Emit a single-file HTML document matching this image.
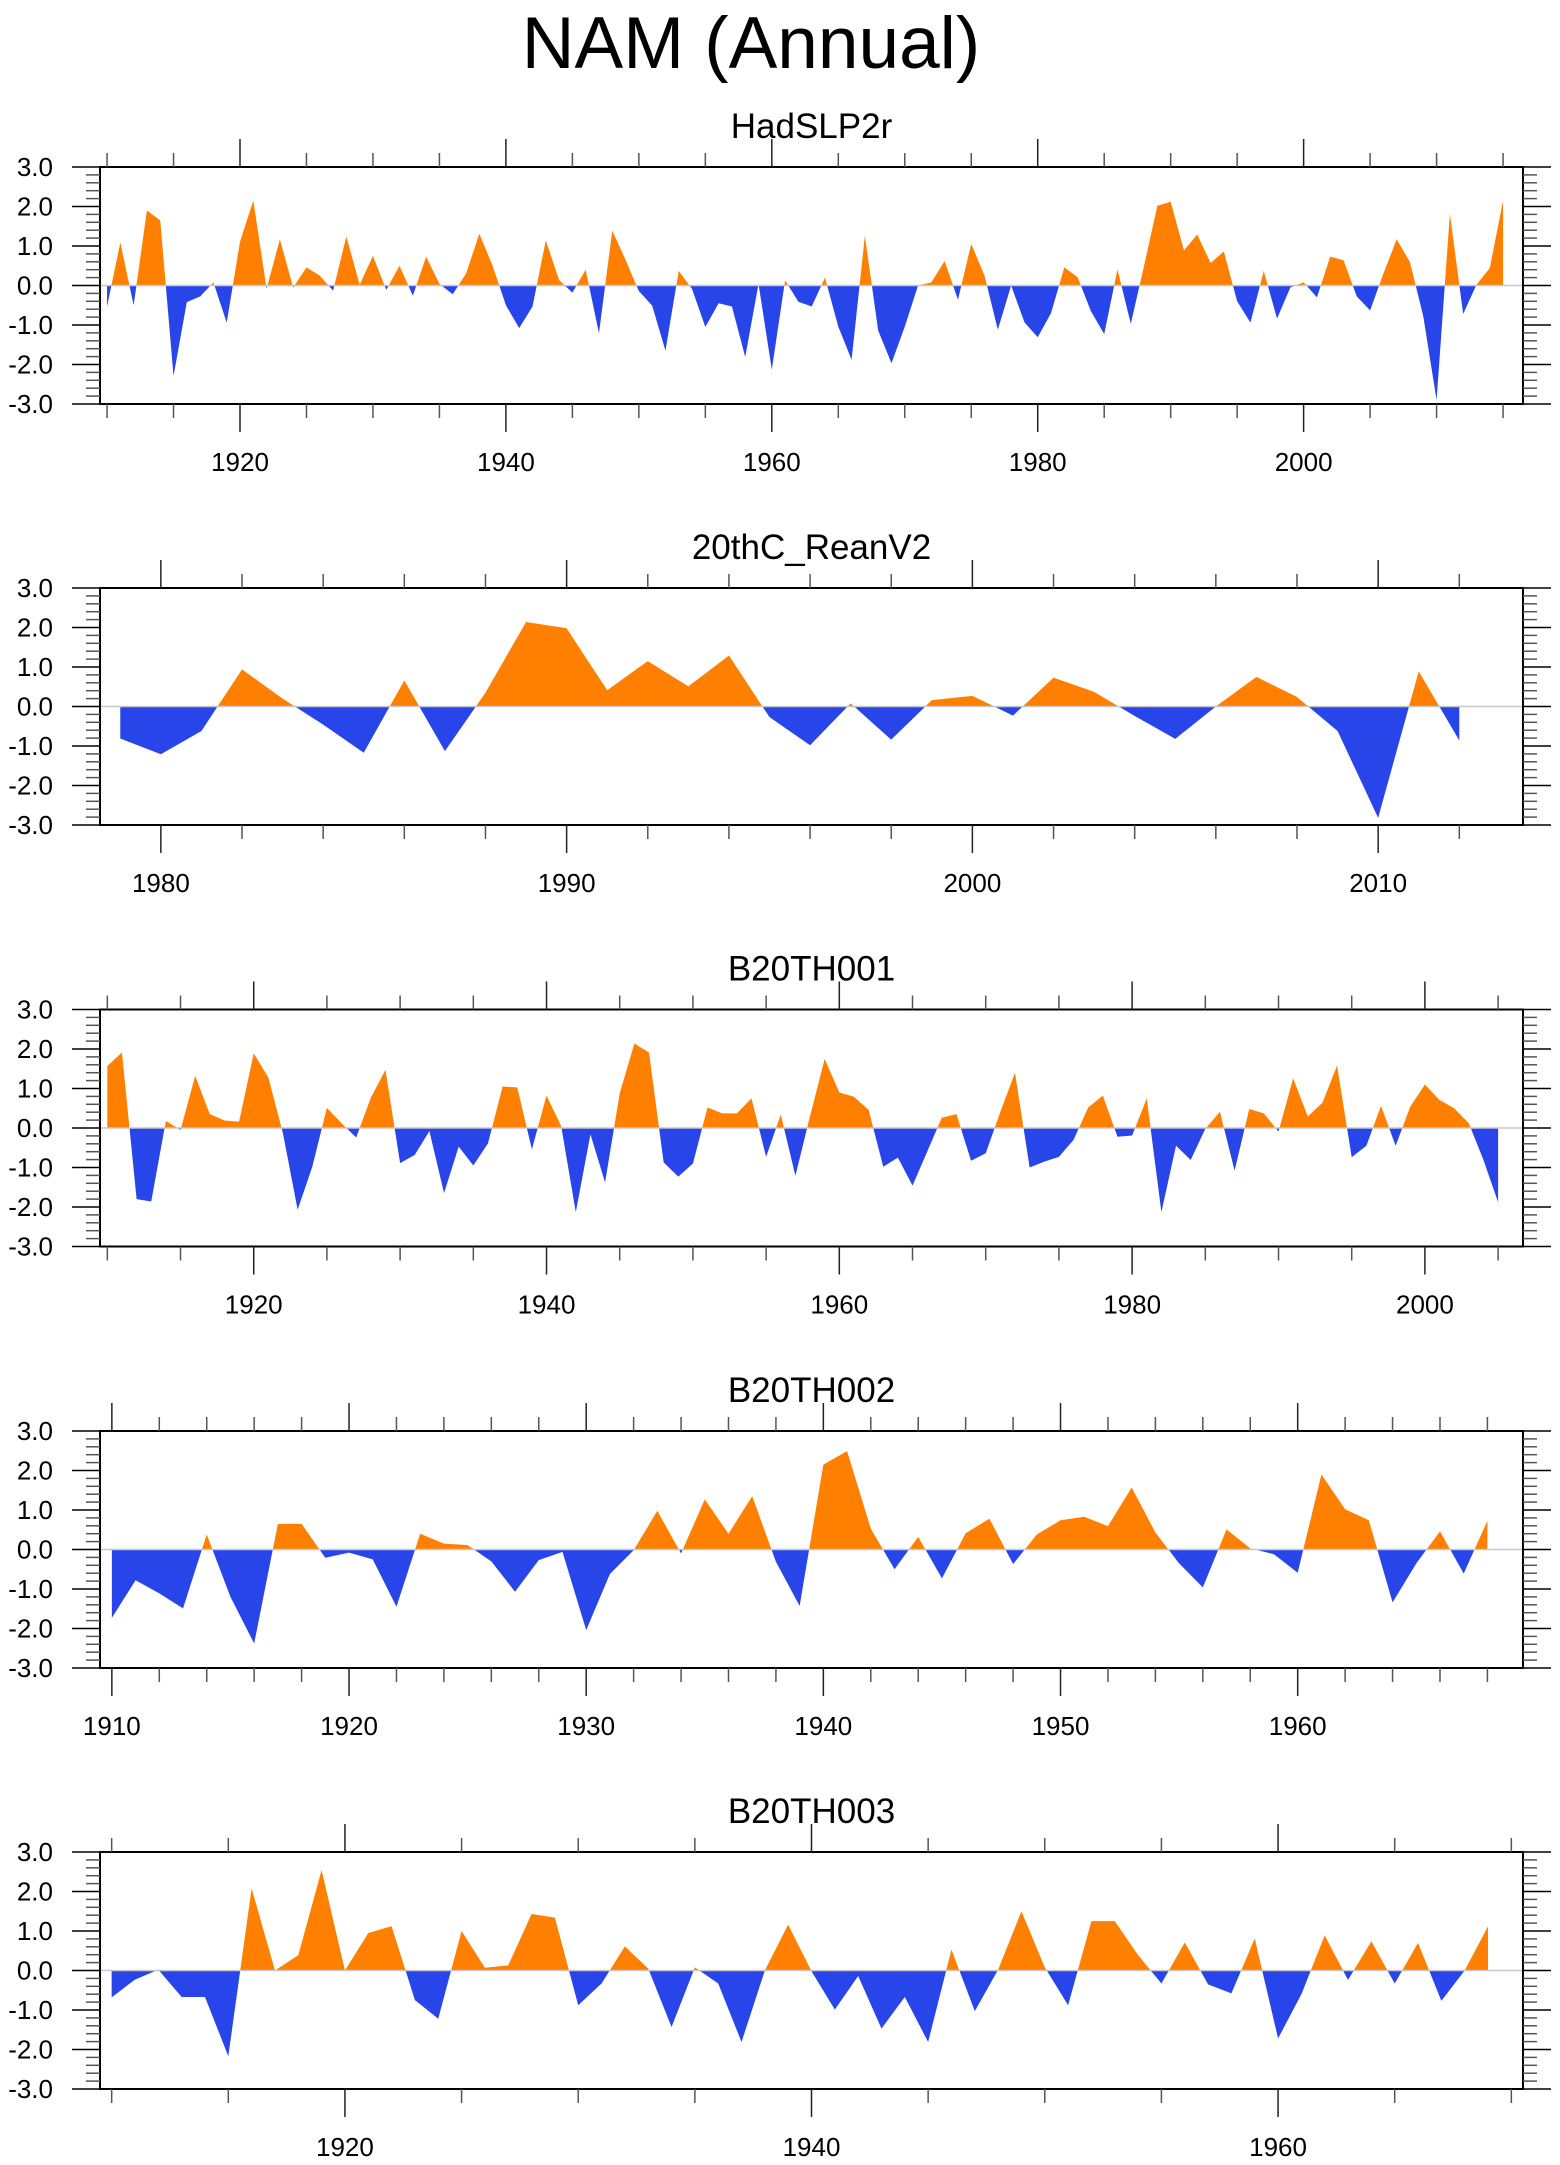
<!DOCTYPE html>
<html><head><meta charset="utf-8"><style>
html,body{margin:0;padding:0;background:#fff;}
svg{display:block;font-family:"Liberation Sans",sans-serif;}
</style></head><body>
<svg id="fig" width="1560" height="2165" viewBox="0 0 1560 2165" xmlns="http://www.w3.org/2000/svg">
<text x="751" y="68" font-size="73" text-anchor="middle">NAM (Annual)</text>
</svg>
<script>
const yTickLabels = ["3.0","2.0","1.0","0.0","-1.0","-2.0","-3.0"];
const yTickValues = [3,2,1,0,-1,-2,-3];

const hadTitle = "HadSLP2r";
const hadStart = 1910;
const hadValues = [-0.53,1.09,-0.5,1.9,1.65,-2.29,-0.42,-0.28,0.08,-0.94,1.11,2.15,-0.08,1.17,-0.05,0.46,0.25,-0.13,1.24,0.02,0.75,-0.11,0.5,-0.26,0.73,0.04,-0.22,0.3,1.31,0.5,-0.5,-1.08,-0.53,1.14,0.14,-0.18,0.4,-1.21,1.39,0.65,-0.14,-0.51,-1.65,0.37,-0.09,-1.05,-0.45,-0.53,-1.81,0.04,-2.13,0.13,-0.41,-0.53,0.2,-1.04,-1.88,1.26,-1.14,-1.97,-1.04,0.0,0.08,0.62,-0.36,1.05,0.25,-1.12,0.0,-0.93,-1.31,-0.7,0.46,0.21,-0.65,-1.23,0.41,-0.97,0.5,2.02,2.12,0.89,1.29,0.57,0.86,-0.4,-0.94,0.37,-0.84,-0.05,0.08,-0.3,0.73,0.64,-0.28,-0.63,0.3,1.17,0.59,-0.78,-2.9,1.81,-0.72,0.02,0.44,2.15];
const hadXTicks = [1920,1940,1960,1980,2000];

const reanTitle = "20thC_ReanV2";
const reanStart = 1979;
const reanValues = [-0.81,-1.21,-0.62,0.94,0.2,-0.46,-1.17,0.66,-1.13,0.35,2.14,1.98,0.41,1.15,0.51,1.29,-0.27,-0.98,0.08,-0.84,0.16,0.27,-0.23,0.73,0.37,-0.24,-0.82,0.0,0.75,0.24,-0.62,-2.82,0.89,-0.86];
const reanXTicks = [1980,1990,2000,2010];

const b1Title = "B20TH001";
const b1Start = 1910;
const b1Values = [1.57,1.91,-1.8,-1.86,0.18,-0.05,1.32,0.35,0.19,0.16,1.89,1.28,-0.14,-2.07,-0.98,0.51,0.12,-0.24,0.77,1.47,-0.89,-0.68,-0.08,-1.65,-0.47,-0.95,-0.39,1.05,1.03,-0.54,0.82,0.05,-2.13,-0.16,-1.38,0.88,2.14,1.91,-0.87,-1.23,-0.9,0.52,0.37,0.37,0.75,-0.73,0.34,-1.21,0.3,1.75,0.9,0.79,0.46,-0.98,-0.75,-1.46,-0.6,0.26,0.35,-0.83,-0.64,0.41,1.4,-1.0,-0.85,-0.73,-0.3,0.52,0.82,-0.22,-0.19,0.75,-2.13,-0.45,-0.81,-0.02,0.41,-1.08,0.48,0.37,-0.09,1.26,0.29,0.64,1.58,-0.74,-0.45,0.56,-0.45,0.54,1.1,0.71,0.5,0.12,-0.81,-1.88];
const b1XTicks = [1920,1940,1960,1980,2000];

const b2Title = "B20TH002";
const b2Start = 1910;
const b2Values = [-1.73,-0.78,-1.11,-1.49,0.38,-1.2,-2.38,0.65,0.65,-0.21,-0.08,-0.25,-1.45,0.4,0.15,0.11,-0.3,-1.07,-0.27,-0.06,-2.04,-0.62,-0.02,0.98,-0.1,1.27,0.4,1.35,-0.31,-1.43,2.15,2.49,0.53,-0.5,0.32,-0.73,0.41,0.78,-0.37,0.38,0.74,0.83,0.59,1.57,0.43,-0.35,-0.96,0.51,0.03,-0.12,-0.59,1.9,1.02,0.74,-1.34,-0.35,0.46,-0.61,0.73];
const b2XTicks = [1910,1920,1930,1940,1950,1960];

const b3Title = "B20TH003";
const b3Start = 1910;
const b3Values = [-0.68,-0.23,0.02,-0.67,-0.67,-2.17,2.08,0.0,0.39,2.54,0.0,0.95,1.12,-0.75,-1.22,1.0,0.07,0.13,1.43,1.34,-0.88,-0.33,0.61,0.05,-1.43,0.08,-0.33,-1.81,0.0,1.16,-0.02,-0.99,-0.14,-1.47,-0.67,-1.81,0.53,-1.03,0.02,1.5,0.08,-0.88,1.25,1.25,0.39,-0.33,0.71,-0.35,-0.58,0.81,-1.72,-0.6,0.89,-0.24,0.74,-0.33,0.7,-0.77,0.0,1.12];
const b3XTicks = [1920,1940,1960];

const NS = "http://www.w3.org/2000/svg";
const svg = document.getElementById("fig");
function mk(tag, attrs, parent){
  const e = document.createElementNS(NS, tag);
  for (const k in attrs) e.setAttribute(k, attrs[k]);
  (parent||svg).appendChild(e);
  return e;
}

const L = 100, R = 1523, H = 237;
function panel(idx, top, title, start, values, xmin, xmax, majorTicks, minorStep, minorStart){
  const g = mk("g", {});
  
  
  const bottom = top + H;
  const xs = v => L + (v - xmin) / (xmax - xmin) * (R - L);
  const ys = v => top + (3 - v) / 6 * H;
  const y0 = ys(0);
  // clip paths
  const defs = mk("defs", {}, g);
  const cpA = mk("clipPath", {id: "ca" + idx}, defs);
  mk("rect", {x: L, y: top, width: R - L, height: y0 - top}, cpA);
  const cpB = mk("clipPath", {id: "cb" + idx}, defs);
  mk("rect", {x: L, y: y0, width: R - L, height: bottom - y0}, cpB);
  let d = "M" + xs(start) + "," + y0;
  values.forEach((v, i) => { d += " L" + xs(start + i).toFixed(2) + "," + ys(v).toFixed(2); });
  d += " L" + xs(start + values.length - 1) + "," + y0 + " Z";
  const pos = mk("path", {d: d, fill: "#FF8000", "clip-path": "url(#ca" + idx + ")"}, g);
  
  
  const neg = mk("path", {d: d, fill: "#2845EA", "clip-path": "url(#cb" + idx + ")"}, g);
  
  
  const zl = mk("line", {x1: L, x2: R, y1: y0, y2: y0, stroke: "#c8c8c8", "stroke-width": 1.5}, g);
  
  
  // frame
  const fr = mk("rect", {x: L, y: top, width: R - L, height: H, fill: "none", stroke: "#000", "stroke-width": 2}, g);
  
  
  // y ticks
  for (let k = 0; k <= 30; k++) {
    const v = -3 + k * 0.2;
    const y = ys(v);
    const major = k % 5 === 0;
    const len = major ? 28 : 14;
    const col = major ? "#000" : "#555";
    mk("line", {x1: L - len, x2: L, y1: y, y2: y, stroke: col, "stroke-width": 1.5}, g);
    mk("line", {x1: R, x2: R + len, y1: y, y2: y, stroke: col, "stroke-width": 1.5}, g);
  }
  yTickValues.forEach((v, i) => {
    const t = mk("text", {x: 53, y: ys(v) + 9, "font-size": 26, "text-anchor": "end"}, g);
    
    
    t.textContent = yTickLabels[i];
  });
  // x ticks
  for (let yr = minorStart; yr <= xmax; yr += minorStep) {
    const x = xs(yr);
    const major = majorTicks.indexOf(yr) >= 0;
    const len = major ? 28 : 14;
    const col = major ? "#222" : "#555";
    mk("line", {x1: x, x2: x, y1: top - len, y2: top, stroke: col, "stroke-width": 1.5}, g);
    mk("line", {x1: x, x2: x, y1: bottom, y2: bottom + len, stroke: col, "stroke-width": 1.5}, g);
  }
  majorTicks.forEach(yr => {
    const t = mk("text", {x: xs(yr), y: bottom + 67, "font-size": 26, "text-anchor": "middle"}, g);
    
    
    t.textContent = String(yr);
  });
  const tt = mk("text", {x: (L + R) / 2, y: top - 29, "font-size": 35, "text-anchor": "middle"}, g);
  
  
  tt.textContent = title;
}

panel(1, 167, hadTitle, hadStart, hadValues, 1909.47, 2016.5, hadXTicks, 5, 1910);
panel(2, 588, reanTitle, reanStart, reanValues, 1978.5, 2013.57, reanXTicks, 2, 1980);
panel(3, 1009.5, b1Title, b1Start, b1Values, 1909.5, 2006.7, b1XTicks, 5, 1910);
panel(4, 1431, b2Title, b2Start, b2Values, 1909.5, 1969.5, b2XTicks, 2, 1910);
panel(5, 1852, b3Title, b3Start, b3Values, 1909.5, 1970.5, b3XTicks, 5, 1910);
</script>
</body></html>
